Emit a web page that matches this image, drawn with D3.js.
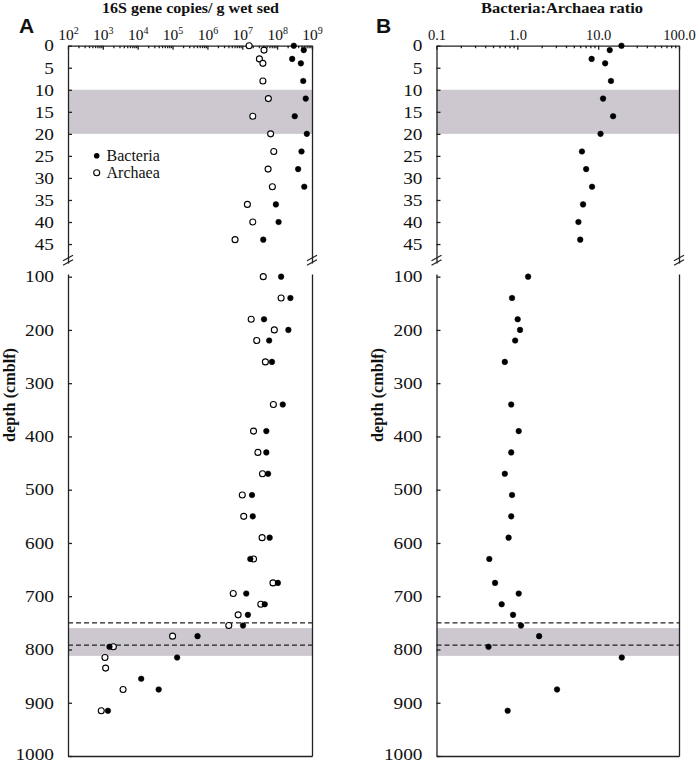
<!DOCTYPE html>
<html><head><meta charset="utf-8">
<script src="https://cdn.jsdelivr.net/npm/d3@7"></script>
<style>
body{margin:0;background:#fff;}
svg{display:block;}
text{font-family:"Liberation Serif","Times New Roman",serif;fill:#111;}
</style></head>
<body>
<svg id="chart" width="699" height="764"></svg>
<script>
// ---------- DATA ----------
const depthUpper = [0,1,3,4,8,12,16,20,24,28,32,36,40,44];
const bacteriaUpper = [3.0e8,5.8e8,2.7e8,4.8e8,5.6e8,6.6e8,3.2e8,7.1e8,5.0e8,4.0e8,6.0e8,9.2e7,1.1e8,4.0e7];
const archaeaUpper  = [1.57e7,4.2e7,3.1e7,3.9e7,3.9e7,5.6e7,2.0e7,6.5e7,8.0e7,5.5e7,7.3e7,1.4e7,2.0e7,6.2e6];

const depthLower = [100,140,180,200,220,260,340,390,430,470,510,550,590,630,675,695,715,735,755,775,795,815,835,855,875,915];
const bacteriaLower = [1.3e8,2.4e8,4.2e7,2.1e8,5.9e7,7.1e7,1.45e8,4.9e7,4.9e7,5.5e7,1.9e7,2.0e7,6.1e7,1.7e7,1.05e8,1.3e7,4.4e7,1.45e7,1.05e7,5.2e5,1.55e3,1.35e5,null,1.26e4,4.0e4,1.4e3];
const archaeaLower  = [4.0e7,1.3e8,1.8e7,8.3e7,2.6e7,4.6e7,7.8e7,2.1e7,2.8e7,3.8e7,1.0e7,1.1e7,3.7e7,2.1e7,7.6e7,5.5e6,3.4e7,7.6e6,4.1e6,1.0e5,2.0e3,1.15e3,1.2e3,null,3.8e3,900];

const ratioUpper = [19.4,13.9,8.3,12.2,14.4,11.5,15.3,10.7,6.3,7.1,8.4,6.5,5.7,6.0];
const ratioDepthLower = [100,140,180,200,220,260,340,390,430,470,510,550,590,630,675,695,715,735,755,775,795,815,875,915];
const ratioLower = [1.36,0.86,1.01,1.08,0.94,0.70,0.84,1.04,0.84,0.70,0.86,0.84,0.78,0.45,0.53,1.04,0.64,0.885,1.11,1.86,0.44,19.6,3.1,0.76];

const upperTicks = [0,5,10,15,20,25,30,35,40,45];
const lowerTicks = [100,200,300,400,500,600,700,800,900,1000];
const copiesExponents = [2,3,4,5,6,7,8,9];
const ratioTickLabels = ["0.1","1.0","10.0","100.0"];
const shadeUpper = [10,20];
const shadeLower = [760,812];
const dashedDepths = [750,792];

// ---------- LAYOUT ----------
const svg = d3.select("#chart");
const yU = d3.scaleLinear().domain([0,49.3]).range([45.7,263]);
const yL = d3.scaleLinear().domain([95,1000]).range([274,756]);
const ink = "#222";
const shadeCol = "#cdc7cf";

function stretch(sel, f){
  sel.each(function(){
    const len = this.getComputedTextLength();
    d3.select(this).attr("textLength", len*f).attr("lengthAdjust","spacingAndGlyphs");
  });
}

function panel(cfg){
  const x = cfg.x;
  const [x0,x1] = x.range();
  const g = svg.append("g");
  g.append("rect").attr("x",x0).attr("width",x1-x0)
    .attr("y",yU(shadeUpper[0])).attr("height",yU(shadeUpper[1])-yU(shadeUpper[0])).attr("fill",shadeCol);
  g.append("rect").attr("x",x0).attr("width",x1-x0)
    .attr("y",yL(shadeLower[0])).attr("height",yL(shadeLower[1])-yL(shadeLower[0])).attr("fill",shadeCol);
  g.selectAll(".dash").data(dashedDepths).join("line")
    .attr("x1",x0).attr("x2",x1).attr("y1",d=>yL(d)).attr("y2",d=>yL(d))
    .attr("stroke",ink).attr("stroke-width",1.3).attr("stroke-dasharray","5,3");

  const ta = g.append("g").attr("transform",`translate(0,${yU(0)})`)
    .call(d3.axisTop(x).tickValues(cfg.majors).tickSize(-4).tickSizeOuter(0).tickPadding(6).tickFormat((d,i)=>cfg.labels[i]));
  ta.selectAll("text").style("font-size",cfg.topFont).attr("fill","#111");
  if(cfg.superscript){
    ta.selectAll(".tick text").each(function(d,i){
      const t = d3.select(this); t.text(null);
      t.append("tspan").text("10");
      t.append("tspan").attr("dy","-0.55em").style("font-size","10px").text(copiesExponents[i]);
    });
  }
  const minors = [];
  cfg.majors.slice(0,-1).forEach(m=>{for(let k=2;k<=9;k++) minors.push(m*k);});
  g.append("g").attr("transform",`translate(0,${yU(0)})`)
    .call(d3.axisTop(x).tickValues(minors).tickSize(-2.5).tickFormat(""))
    .call(s=>s.select(".domain").remove());
  g.append("g").attr("transform",`translate(0,${yL(1000)})`)
    .call(d3.axisBottom(x).tickValues([]).tickSizeOuter(0));
  const la1 = g.append("g").attr("transform",`translate(${x0},0)`)
    .call(d3.axisLeft(yU).tickValues(upperTicks).tickSize(-4).tickSizeOuter(0).tickPadding(14).tickFormat(d3.format("d")));
  const la2 = g.append("g").attr("transform",`translate(${x0},0)`)
    .call(d3.axisLeft(yL).tickValues(lowerTicks).tickSize(-4).tickSizeOuter(0).tickPadding(14).tickFormat(d3.format("d")));
  [la1,la2].forEach(a=>{
    a.selectAll("text").style("font-size","16.5px").attr("fill","#111");
    stretch(a.selectAll("text"),1.17);
  });
  la2.selectAll(".tick text").filter(d=>d===1000).attr("dy","0.24em");
  g.append("g").attr("transform",`translate(${x1},0)`)
    .call(d3.axisRight(yU).tickValues([]).tickSizeOuter(0));
  g.append("g").attr("transform",`translate(${x1},0)`)
    .call(d3.axisRight(yL).tickValues([]).tickSizeOuter(0));
  g.selectAll(".domain, .tick line").attr("stroke",ink).attr("stroke-width",1.3);
  [x0,x1].forEach(bx=>{
    [258,262.5].forEach(cy=>{
      g.append("line").attr("x1",bx-5).attr("x2",bx+5).attr("y1",cy+2.8).attr("y2",cy-2.8)
        .attr("stroke",ink).attr("stroke-width",1.2);
    });
  });
  const title = g.append("text").attr("x",cfg.titleX).attr("y",12.5).attr("text-anchor","middle")
    .style("font-size","15.5px").style("font-weight","bold").text(cfg.title);
  title.attr("textLength",cfg.titleLen).attr("lengthAdjust","spacingAndGlyphs");
  g.append("text").attr("x",cfg.letterX).attr("y",33)
    .style("font-family","'Liberation Sans',Arial,sans-serif").style("font-size","21px").style("font-weight","bold").text(cfg.letter);
  g.append("text").attr("transform",`translate(${cfg.ylabX},395) rotate(-90)`).attr("text-anchor","middle")
    .attr("dominant-baseline","central").style("font-size","16.5px").style("font-weight","bold")
    .attr("textLength",94).attr("lengthAdjust","spacingAndGlyphs").text("depth (cmblf)");
  return g;
}

const xA = d3.scaleLog().domain([1e2,1e9]).range([68,312]);
const gA = panel({x:xA, majors:copiesExponents.map(e=>Math.pow(10,e)), labels:copiesExponents.map(e=>"10"+e), superscript:true,
  topFont:"15.5px", title:"16S gene copies/ g wet sed", titleX:190.5, titleLen:177, letter:"A", letterX:19, ylabX:9.5});

function dots(g,x,depths,vals,y,filled){
  const data = depths.map((d,i)=>({d,v:vals[i]})).filter(o=>o.v!=null);
  g.selectAll(null).data(data).join("circle")
    .attr("cx",o=>x(o.v)).attr("cy",o=>y(o.d))
    .attr("r",filled?2.8:3)
    .attr("fill",filled?"#000":"#fff").attr("stroke","#000").attr("stroke-width",filled?0.5:1.1);
}
dots(gA,xA,depthUpper,archaeaUpper,yU,false);
dots(gA,xA,depthLower,archaeaLower,yL,false);
dots(gA,xA,depthUpper,bacteriaUpper,yU,true);
dots(gA,xA,depthLower,bacteriaLower,yL,true);

gA.append("circle").attr("cx",96.7).attr("cy",155.7).attr("r",2.8).attr("fill","#000");
gA.append("circle").attr("cx",96.7).attr("cy",172.7).attr("r",3).attr("fill","#fff").attr("stroke","#000").attr("stroke-width",1.1);
gA.append("text").attr("x",106.5).attr("y",161).style("font-size","16px").text("Bacteria");
gA.append("text").attr("x",106.5).attr("y",178).style("font-size","16px").text("Archaea");

const xB = d3.scaleLog().domain([0.1,100]).range([436.5,679]);
const gB = panel({x:xB, majors:[0.1,1,10,100], labels:ratioTickLabels, superscript:false,
  topFont:"14.5px", title:"Bacteria:Archaea ratio", titleX:562, titleLen:162, letter:"B", letterX:376, ylabX:377});
dots(gB,xB,depthUpper,ratioUpper,yU,true);
dots(gB,xB,ratioDepthLower,ratioLower,yL,true);
</script>
</body></html>
